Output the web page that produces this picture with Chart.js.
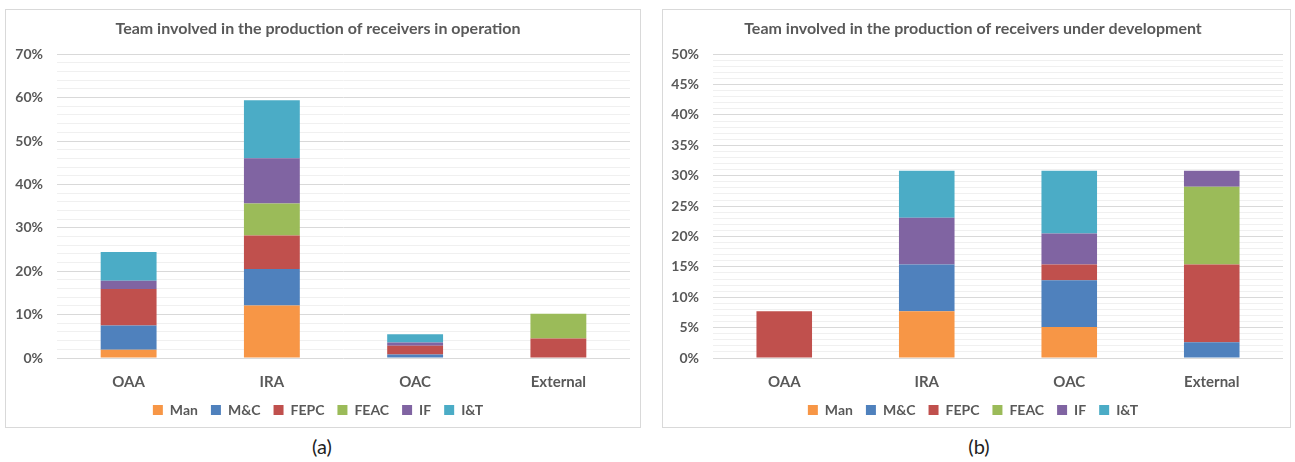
<!DOCTYPE html>
<html>
<head>
<meta charset="utf-8">
<script src="https://cdn.jsdelivr.net/npm/chart.js@4.4.0/dist/chart.umd.min.js"></script>
<style>
  body { margin: 0; background: #fff; width: 1295px; height: 462px; position: relative; overflow: hidden; font-family: Lato, sans-serif; }
  .box { position: absolute; top: 9px; height: 417px; border: 1px solid #d9d9d9; }
  .box canvas { display: block; }
  .cap { position: absolute; top: 434px; font-size: 20px; color: #222; text-align: center; width: 100px; }
</style>
</head>
<body>
<div class="box" style="left:5px; width:634px;"><canvas id="opChart" width="634" height="417"></canvas></div>
<div class="box" style="left:662px; width:627px;"><canvas id="devChart" width="627" height="417"></canvas></div>
<div class="cap" style="left:272px;">(a)</div>
<div class="cap" style="left:929px;">(b)</div>
<script>
const categories = ['OAA', 'IRA', 'OAC', 'External'];
const teams = ['Man', 'M&C', 'FEPC', 'FEAC', 'IF', 'I&T'];
const teamColors = ['#F79646', '#4F81BD', '#C0504D', '#9BBB59', '#8064A2', '#4BACC6'];

// receivers in operation (%)
const opMan  = [1.9, 12.1, 0, 0];
const opMC   = [5.6, 8.4, 0.8, 0];
const opFEPC = [8.4, 7.7, 2.0, 4.5];
const opFEAC = [0, 7.4, 0, 5.7];
const opIF   = [1.9, 10.4, 0.8, 0];
const opIT   = [6.6, 13.4, 1.9, 0];

// receivers under development (%)
const devMan  = [0, 7.7, 5.1, 0];
const devMC   = [0, 7.7, 7.7, 2.6];
const devFEPC = [7.7, 0, 2.6, 12.8];
const devFEAC = [0, 0, 0, 12.8];
const devIF   = [0, 7.7, 5.1, 2.6];
const devIT   = [0, 7.7, 10.3, 0];

const textColor = '#595959';
const font = 'Lato';

const makeChart = (id, title, series, yMax, minorStep, majorStep, yWidth, rightPad) => {
    const datasets = series.map((values, i) => ({
        label: teams[i],
        data: values.map(v => v === 0 ? null : v),
        backgroundColor: teamColors[i],
        borderWidth: 0,
        categoryPercentage: 1,
        barPercentage: 0.39
    }));

    return new Chart(document.getElementById(id), {
        type: 'bar',
        data: { labels: categories, datasets: datasets },
        options: {
            responsive: false,
            animation: false,
            layout: { padding: { left: 0, right: rightPad, bottom: 0 } },
            plugins: {
                title: {
                    display: true,
                    text: title,
                    color: textColor,
                    font: { family: font, size: 16, weight: 'bold' },
                    padding: { top: 9, bottom: 16 }
                },
                legend: {
                    position: 'bottom',
                    labels: {
                        color: textColor,
                        font: { family: font, size: 14, weight: 'bold' },
                        boxWidth: 10,
                        boxHeight: 10,
                        padding: 13
                    }
                },
                tooltip: { enabled: false }
            },
            scales: {
                x: {
                    stacked: true,
                    grid: { display: false, drawTicks: false },
                    border: { display: false },
                    ticks: {
                        color: textColor,
                        font: { family: font, size: 15, weight: 'bold' },
                        padding: 15
                    },
                    afterFit: scale => { scale.height = 32; }
                },
                y: {
                    stacked: true,
                    min: 0,
                    max: yMax,
                    border: { display: false },
                    grid: {
                        drawTicks: false,
                        color: ctx => (ctx.tick && ctx.tick.value % majorStep === 0) ? '#d9d9d9' : '#f0f0f0'
                    },
                    ticks: {
                        stepSize: minorStep,
                        autoSkip: false,
                        color: textColor,
                        font: { family: font, size: 14, weight: 'bold' },
                        padding: 14,
                        callback: v => (v % majorStep === 0) ? v + '%' : ''
                    },
                    afterFit: scale => { scale.width = yWidth; }
                }
            }
        }
    });
};

makeChart('opChart', 'Team involved in the production of receivers in operation',
    [opMan, opMC, opFEPC, opFEAC, opIF, opIT], 70, 2, 10, 51, 10);
makeChart('devChart', 'Team involved in the production of receivers under development',
    [devMan, devMC, devFEPC, devFEAC, devIF, devIT], 50, 1, 5, 50, 7);
</script>
</body>
</html>
